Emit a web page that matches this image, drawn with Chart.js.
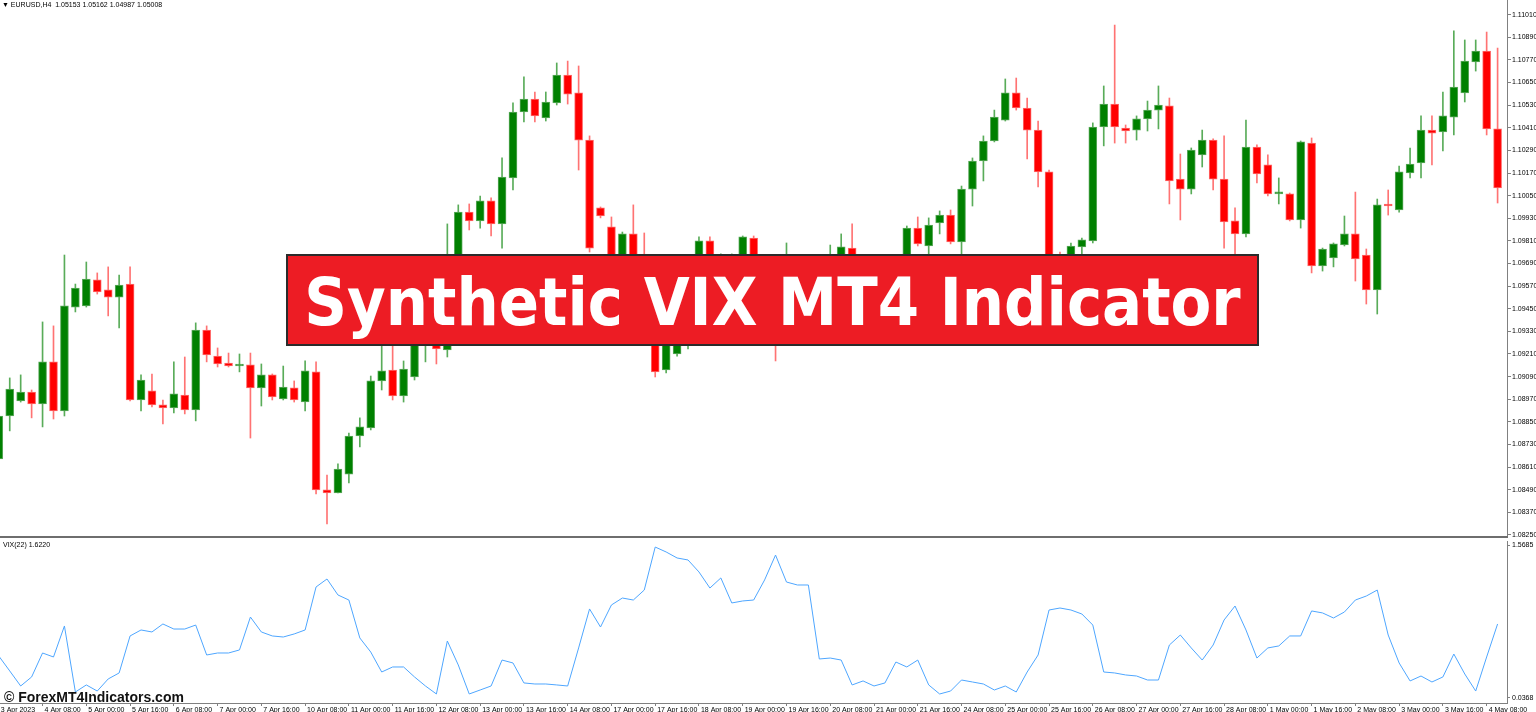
<!DOCTYPE html>
<html>
<head>
<meta charset="utf-8">
<script src="https://cdn.jsdelivr.net/npm/chart.js@4.4.0/dist/chart.umd.min.js"></script>
<style>
  body { margin: 0; background: #fff; width: 1536px; height: 712px; overflow: hidden; position: relative; }
  canvas { position: absolute; left: 0; }
  #priceChart { top: 0; }
  #vixChart { top: 538px; }
  .sep { position: absolute; left: 0; top: 536px; width: 1508px; height: 2px; background: #6e6e6e; }
  .small { position: absolute; font: 7px 'Liberation Sans', sans-serif; color: #000; white-space: pre; line-height: 9px; }
  .banner {
    position: absolute; left: 286px; top: 254px; width: 973px; height: 92px; box-sizing: border-box;
    background: #ed1c24; border: 2px solid #2b2b2b; color: #fff;
    font: bold 66px 'DejaVu Sans Condensed', 'DejaVu Sans', sans-serif;
    display: flex; align-items: center; justify-content: center; padding-top: 4px;
  }
  .mark { position: absolute; left: 4px; top: 690px; font: bold 14px 'Liberation Sans', sans-serif; line-height: 14px; color: #111; white-space: pre; }
</style>
</head>
<body>
<canvas id="priceChart" width="1536" height="538"></canvas>
<canvas id="vixChart" width="1536" height="174"></canvas>
<div class="sep"></div>
<div class="small" style="left:2px;top:0px">▼ EURUSD,H4  1.05153 1.05162 1.04987 1.05008</div>
<div class="small" style="left:3px;top:540px">VIX(22) 1.6220</div>
<div class="banner">Synthetic VIX MT4 Indicator</div>
<div class="mark">© ForexMT4Indicators.com</div>

<script>
// ====== CANDLES (EURUSD H4, 3 Apr - 4 May 2023) ======
const opens = [
  1.08653, 1.08881, 1.08961, 1.09008, 1.08945, 1.09168, 1.08908, 1.09459, 1.09465, 1.09603,
  1.09550, 1.09512, 1.09581, 1.08966, 1.09014, 1.08940, 1.08924, 1.08992, 1.08913, 1.09337,
  1.09199, 1.09162, 1.09146, 1.09152, 1.09030, 1.09099, 1.08971, 1.09030, 1.08955, 1.09115,
  1.08489, 1.08473, 1.08573, 1.08775, 1.08818, 1.09067, 1.09125, 1.08987, 1.09088, 1.09337,
  1.09497, 1.09231, 1.09666, 1.09963, 1.09916, 1.10022, 1.09900, 1.10144, 1.10494, 1.10563,
  1.10462, 1.10542, 1.10690, 1.10595, 1.10345, 1.09985, 1.09884, 1.09656, 1.09847, 1.09603,
  1.09497, 1.09125, 1.09210, 1.09390, 1.09497, 1.09810, 1.09550, 1.09629, 1.09698, 1.09825,
  1.09603, 1.09443, 1.09337, 1.09656, 1.09550, 1.09497, 1.09603, 1.09698, 1.09772, 1.09719,
  1.09698, 1.09656, 1.09682, 1.09576, 1.09878, 1.09783, 1.09905, 1.09947, 1.09804, 1.10085,
  1.10234, 1.10340, 1.10451, 1.10595, 1.10515, 1.10398, 1.10176, 1.09656, 1.09629, 1.09778,
  1.09810, 1.10414, 1.10536, 1.10409, 1.10398, 1.10457, 1.10504, 1.10526, 1.10138, 1.10085,
  1.10266, 1.10345, 1.10138, 1.09916, 1.09847, 1.10308, 1.10213, 1.10059, 1.10059, 1.09921,
  1.10329, 1.09677, 1.09719, 1.09788, 1.09847, 1.09735, 1.09550, 1.10001, 1.09974, 1.10170,
  1.10223, 1.10398, 1.10388, 1.10467, 1.10595, 1.10759, 1.10817, 1.10404
];
const highs = [
  1.08892, 1.09083, 1.09099, 1.09019, 1.09380, 1.09359, 1.09735, 1.09581, 1.09698, 1.09640,
  1.09672, 1.09629, 1.09672, 1.09099, 1.09104, 1.08966, 1.09168, 1.09194, 1.09375, 1.09359,
  1.09242, 1.09215, 1.09210, 1.09215, 1.09157, 1.09104, 1.09146, 1.09067, 1.09173, 1.09168,
  1.08568, 1.08627, 1.08791, 1.08871, 1.09093, 1.09258, 1.09252, 1.09173, 1.09443, 1.09550,
  1.09539, 1.09900, 1.10001, 1.10006, 1.10048, 1.10038, 1.10250, 1.10542, 1.10680, 1.10600,
  1.10600, 1.10754, 1.10764, 1.10738, 1.10367, 1.09990, 1.09937, 1.09857, 1.10001, 1.09852,
  1.09518, 1.09311, 1.09443, 1.09550, 1.09831, 1.09831, 1.09741, 1.09741, 1.09836, 1.09836,
  1.09698, 1.09497, 1.09799, 1.09698, 1.09603, 1.09656, 1.09788, 1.09847, 1.09900, 1.09730,
  1.09719, 1.09709, 1.09709, 1.09889, 1.09937, 1.09932, 1.09969, 1.09974, 1.10101, 1.10250,
  1.10367, 1.10504, 1.10669, 1.10674, 1.10568, 1.10446, 1.10186, 1.09751, 1.09799, 1.09825,
  1.10436, 1.10632, 1.10955, 1.10425, 1.10473, 1.10552, 1.10632, 1.10568, 1.10271, 1.10303,
  1.10398, 1.10351, 1.10367, 1.09985, 1.10451, 1.10319, 1.10266, 1.10144, 1.10064, 1.10340,
  1.10356, 1.09772, 1.09799, 1.09942, 1.10069, 1.09767, 1.10032, 1.10080, 1.10207, 1.10303,
  1.10473, 1.10473, 1.10600, 1.10924, 1.10876, 1.10876, 1.10918, 1.10833
];
const lows = [
  1.08642, 1.08802, 1.08955, 1.08871, 1.08823, 1.08865, 1.08881, 1.09433, 1.09459, 1.09528,
  1.09412, 1.09348, 1.08961, 1.08908, 1.08929, 1.08839, 1.08897, 1.08892, 1.08855, 1.09168,
  1.09141, 1.09141, 1.09115, 1.08764, 1.08934, 1.08966, 1.08966, 1.08955, 1.08908, 1.08467,
  1.08308, 1.08473, 1.08526, 1.08717, 1.08807, 1.09019, 1.08966, 1.08955, 1.09072, 1.09168,
  1.09157, 1.09194, 1.09629, 1.09868, 1.09878, 1.09836, 1.09772, 1.10080, 1.10441, 1.10441,
  1.10446, 1.10531, 1.10536, 1.10186, 1.09751, 1.09932, 1.09629, 1.09555, 1.09576, 1.09470,
  1.09088, 1.09109, 1.09199, 1.09237, 1.09274, 1.09449, 1.09343, 1.09603, 1.09587, 1.09576,
  1.09364, 1.09173, 1.09327, 1.09316, 1.09284, 1.09454, 1.09465, 1.09497, 1.09709, 1.09677,
  1.09634, 1.09624, 1.09523, 1.09539, 1.09783, 1.09730, 1.09847, 1.09794, 1.09735, 1.09995,
  1.10128, 1.10335, 1.10446, 1.10504, 1.10245, 1.10096, 1.09587, 1.09566, 1.09576, 1.09624,
  1.09799, 1.10314, 1.10329, 1.10329, 1.10345, 1.10393, 1.10404, 1.10006, 1.09921, 1.10059,
  1.10202, 1.10080, 1.09772, 1.09730, 1.09831, 1.10117, 1.10048, 1.10006, 1.09916, 1.09878,
  1.09640, 1.09650, 1.09672, 1.09783, 1.09597, 1.09475, 1.09422, 1.09947, 1.09963, 1.10144,
  1.10144, 1.10213, 1.10287, 1.10372, 1.10547, 1.10711, 1.10372, 1.10011
];
const closes = [
  1.08881, 1.09024, 1.09008, 1.08945, 1.09168, 1.08908, 1.09465, 1.09560, 1.09608, 1.09539,
  1.09512, 1.09576, 1.08966, 1.09072, 1.08940, 1.08924, 1.08998, 1.08913, 1.09337, 1.09205,
  1.09157, 1.09146, 1.09157, 1.09030, 1.09099, 1.08982, 1.09035, 1.08966, 1.09120, 1.08489,
  1.08473, 1.08600, 1.08775, 1.08823, 1.09067, 1.09120, 1.08987, 1.09130, 1.09390, 1.09497,
  1.09237, 1.09656, 1.09963, 1.09916, 1.10022, 1.09900, 1.10149, 1.10494, 1.10563, 1.10473,
  1.10547, 1.10690, 1.10589, 1.10345, 1.09772, 1.09942, 1.09666, 1.09847, 1.09603, 1.09497,
  1.09115, 1.09284, 1.09390, 1.09497, 1.09810, 1.09550, 1.09629, 1.09698, 1.09831, 1.09603,
  1.09443, 1.09337, 1.09656, 1.09550, 1.09497, 1.09603, 1.09698, 1.09778, 1.09719, 1.09698,
  1.09656, 1.09682, 1.09576, 1.09878, 1.09794, 1.09894, 1.09947, 1.09804, 1.10085, 1.10234,
  1.10340, 1.10467, 1.10595, 1.10515, 1.10398, 1.10176, 1.09656, 1.09629, 1.09783, 1.09815,
  1.10414, 1.10536, 1.10414, 1.10393, 1.10457, 1.10504, 1.10531, 1.10128, 1.10085, 1.10292,
  1.10345, 1.10138, 1.09910, 1.09847, 1.10308, 1.10165, 1.10059, 1.10064, 1.09921, 1.10335,
  1.09677, 1.09767, 1.09794, 1.09847, 1.09714, 1.09550, 1.10001, 1.09995, 1.10176, 1.10218,
  1.10398, 1.10382, 1.10473, 1.10626, 1.10764, 1.10817, 1.10404, 1.10091
];

// ====== VIX(22) ======
const vixValues = [
  0.474, 0.332, 0.189, 0.275, 0.503, 0.465, 0.760, 0.132, 0.199, 0.141,
  0.256, 0.313, 0.665, 0.722, 0.703, 0.779, 0.731, 0.731, 0.769, 0.484,
  0.503, 0.503, 0.532, 0.845, 0.703, 0.665, 0.655, 0.684, 0.722, 1.131,
  1.207, 1.055, 1.007, 0.646, 0.512, 0.322, 0.370, 0.370, 0.275, 0.189,
  0.113, 0.617, 0.389, 0.113, 0.151, 0.189, 0.436, 0.408, 0.218, 0.208,
  0.208, 0.199, 0.189, 0.551, 0.922, 0.750, 0.960, 1.026, 1.007, 1.102,
  1.511, 1.464, 1.407, 1.388, 1.274, 1.121, 1.217, 0.979, 0.998, 1.007,
  1.198, 1.435, 1.178, 1.150, 1.150, 0.446, 0.455, 0.436, 0.199, 0.237,
  0.189, 0.218, 0.417, 0.370, 0.436, 0.199, 0.113, 0.141, 0.246, 0.227,
  0.208, 0.151, 0.189, 0.132, 0.322, 0.484, 0.912, 0.931, 0.912, 0.874,
  0.769, 0.322, 0.313, 0.294, 0.284, 0.246, 0.246, 0.579, 0.674, 0.551,
  0.436, 0.579, 0.817, 0.950, 0.722, 0.455, 0.551, 0.570, 0.665, 0.665,
  0.903, 0.884, 0.836, 0.893, 1.007, 1.045, 1.102, 0.674, 0.408, 0.237,
  0.284, 0.227, 0.275, 0.493, 0.303, 0.141, 0.465, 0.779
];

// ====== AXIS LABELS ======
const dateLabels = [
  "3 Apr 2023", "4 Apr 08:00", "5 Apr 00:00", "5 Apr 16:00", "6 Apr 08:00", "7 Apr 00:00",
  "7 Apr 16:00", "10 Apr 08:00", "11 Apr 00:00", "11 Apr 16:00", "12 Apr 08:00", "13 Apr 00:00",
  "13 Apr 16:00", "14 Apr 08:00", "17 Apr 00:00", "17 Apr 16:00", "18 Apr 08:00", "19 Apr 00:00",
  "19 Apr 16:00", "20 Apr 08:00", "21 Apr 00:00", "21 Apr 16:00", "24 Apr 08:00", "25 Apr 00:00",
  "25 Apr 16:00", "26 Apr 08:00", "27 Apr 00:00", "27 Apr 16:00", "28 Apr 08:00", "1 May 00:00",
  "1 May 16:00", "2 May 08:00", "3 May 00:00", "3 May 16:00", "4 May 08:00"
];
const priceTicks = [
  1.11010, 1.10890, 1.10770, 1.10650, 1.10530, 1.10410, 1.10290, 1.10170, 1.10050, 1.09930,
  1.09810, 1.09690, 1.09570, 1.09450, 1.09330, 1.09210, 1.09090, 1.08970, 1.08850, 1.08730,
  1.08610, 1.08490, 1.08370, 1.08250
];
const vixTickLabels = ["1.5685", "0.0368"];
const vixTickSpots = [1.5304, 0.0748]; // where MT4 prints the max/min labels

// ====== SHARED SETTINGS ======
const bars = opens.map((_, i) => i);
const isUp = bars.map(i => closes[i] >= opens[i]);
const xMin = 0.11, xMax = 137.86;
const axisFont = { family: "'Liberation Sans', sans-serif", size: 7 };
const axisGray = '#808080';

const ctxPrice = document.getElementById("priceChart").getContext("2d");
new Chart(ctxPrice, {
  type: "bar",
  data: {
    datasets: [{
      label: "wick",
      data: bars.map(i => ({ x: i, y: [lows[i], highs[i]] })),
      backgroundColor: bars.map(i => isUp[i] ? "rgba(0,128,0,0.65)" : "rgba(255,0,0,0.55)"),
      barThickness: 1,
      grouped: false,
      order: 2
    }, {
      label: "body",
      data: bars.map(i => ({ x: i, y: [opens[i], closes[i]] })),
      backgroundColor: bars.map(i => isUp[i] ? "#008000" : "#ff0000"),
      borderColor: bars.map(i => isUp[i] ? "#5caa5c" : "#ff6a6a"),
      borderWidth: 1,
      borderSkipped: false,
      barThickness: 8,
      minBarLength: 2,
      grouped: false,
      order: 1
    }]
  },
  options: {
    responsive: false,
    animation: false,
    layout: { padding: { top: 0, bottom: 1, left: 0, right: 0 } },
    plugins: { legend: { display: false }, tooltip: { enabled: false } },
    scales: {
      x: { type: "linear", display: false, min: xMin, max: xMax, offset: false, bounds: "data" },
      y: {
        position: "right",
        min: 1.08239,
        max: 1.11088,
        bounds: "data",
        beginAtZero: false,
        grid: { drawOnChartArea: false, tickLength: 4, color: axisGray },
        border: { color: axisGray },
        ticks: { font: axisFont, color: "#000", padding: 1, autoSkip: false, callback: v => v.toFixed(5) },
        afterBuildTicks: s => { s.ticks = priceTicks.map(v => ({ value: v })); },
        afterFit: s => { s.width = 29; s.paddingTop = 0; s.paddingBottom = 0; }
      }
    }
  }
});

const ctxVix = document.getElementById("vixChart").getContext("2d");
new Chart(ctxVix, {
  type: "line",
  data: {
    datasets: [{
      label: "VIX(22)",
      data: bars.map(i => ({ x: i, y: vixValues[i] })),
      borderColor: "#4ea6ff",
      borderWidth: 1,
      pointRadius: 0,
      tension: 0
    }]
  },
  options: {
    responsive: false,
    animation: false,
    layout: { padding: { top: 3, bottom: 0, left: 0, right: 0 } },
    plugins: { legend: { display: false }, tooltip: { enabled: false } },
    scales: {
      x: {
        type: "linear", min: xMin, max: xMax, bounds: "data",
        grid: { drawOnChartArea: false, tickLength: 3, color: axisGray },
        border: { color: axisGray },
        ticks: { font: axisFont, color: "#000", padding: 0, align: "start", labelOffset: 2, autoSkip: false, maxRotation: 0, callback: (v, i) => dateLabels[i] },
        afterBuildTicks: s => { s.ticks = dateLabels.map((_, j) => ({ value: j * 4 })); },
        afterFit: s => { s.height = 9; s.paddingLeft = 0; s.paddingRight = 0; }
      },
      y: {
        position: "right", min: 0.0272, max: 1.5685, bounds: "data", beginAtZero: false,
        grid: { drawOnChartArea: false, tickLength: 3, color: axisGray },
        border: { color: axisGray },
        ticks: { font: axisFont, color: "#000", padding: 2, autoSkip: false, callback: (v, i) => vixTickLabels[i] },
        afterBuildTicks: s => { s.ticks = vixTickSpots.map(v => ({ value: v })); },
        afterFit: s => { s.width = 29; s.paddingTop = 0; s.paddingBottom = 0; }
      }
    }
  }
});
</script>
</body>
</html>
